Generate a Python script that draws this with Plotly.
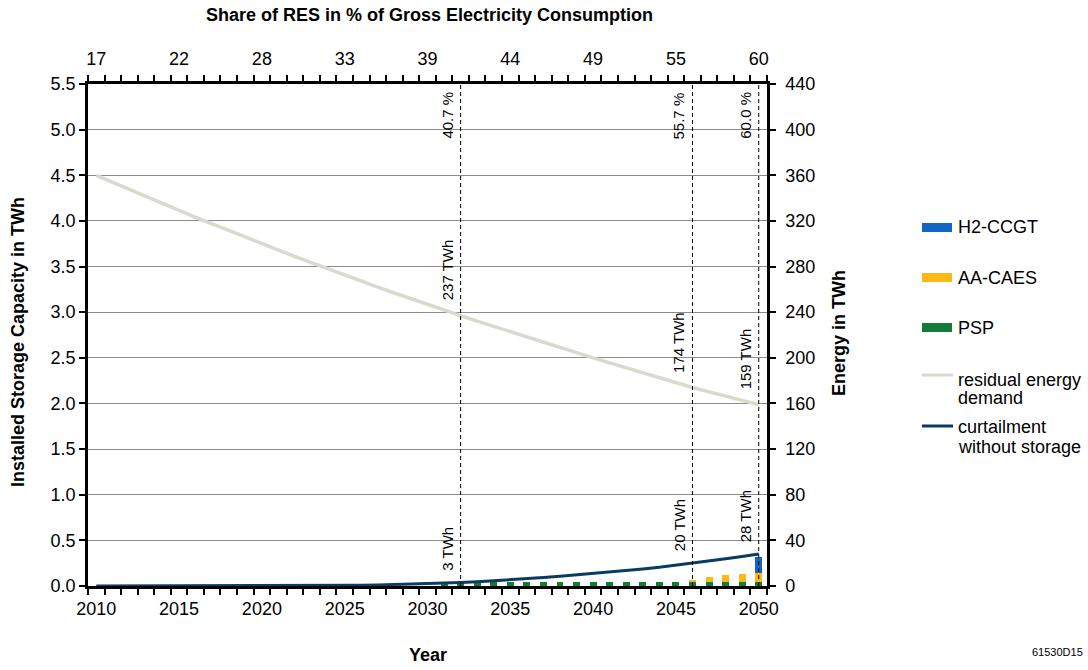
import plotly.graph_objects as go

# ---- data -------------------------------------------------------------
years = list(range(2010, 2051))

# share of renewables in gross electricity consumption (top axis labels, every 5 years)
res_share_years = [2010, 2015, 2020, 2025, 2030, 2035, 2040, 2045, 2050]
res_share_labels = ["17", "22", "28", "33", "39", "44", "49", "55", "60"]

# residual energy demand in TWh
residual_twh = [
    360.0, 353.7, 347.5, 341.3, 335.2, 329.2, 323.2, 317.3, 311.5, 305.7,
    300.0, 294.4, 288.8, 283.3, 277.9, 272.5, 267.2, 262.0, 256.8, 251.7,
    246.7, 241.8, 237.0, 232.2, 227.5, 222.8, 218.2, 213.6, 209.0, 204.5,
    200.0, 195.6, 191.2, 186.9, 182.6, 178.3, 174.0, 170.1, 166.3, 162.6,
    159.0,
]

# curtailment without storage in TWh
curtailment_twh = [
    0.0, 0.0, 0.0, 0.0, 0.0, 0.0, 0.0, 0.0, 0.0, 0.0,
    0.05, 0.1, 0.15, 0.2, 0.3, 0.4, 0.6, 0.9, 1.2, 1.6,
    2.0, 2.5, 3.0, 3.7, 4.5, 5.4, 6.4, 7.5, 8.6, 9.8,
    11.0, 12.3, 13.6, 15.0, 16.5, 18.2, 20.0, 21.9, 23.9, 25.9,
    28.0,
]

# installed storage capacity in TWh
psp_twh = [0.0] * 21 + [0.04] * 20
aa_caes_twh = [0.0] * 36 + [0.03, 0.06, 0.08, 0.09, 0.10]
h2_ccgt_twh = [0.0] * 40 + [0.18]

# marked years with their RES share and residual / curtailment values
mark_years = [2032, 2046, 2050]
mark_share = ["40.7 %", "55.7 %", "60.0 %"]
mark_residual = [237, 174, 159]
mark_curtail = [3, 20, 28]

# ---- styling ----------------------------------------------------------
FONT = "Arial, Liberation Sans, sans-serif"
C_H2 = "#1066C2"
C_CAES = "#FDB913"
C_PSP = "#137B38"
C_RES = "#D9D9CC"
C_CURT = "#0B3A62"

W, H = 1088, 670
L, R, T, B = 88, 321, 84, 84
PW, PH = W - L - R, H - T - B
Y2_MAX = 440


def px(x):
    return (x - L) / PW


def py(y):
    return (H - B - y) / PH


fig = go.Figure()

# stacked storage capacity bars (bottom axis carries the year-boundary ticks)
for name, vals, col in [("PSP", psp_twh, C_PSP),
                        ("AA-CAES", aa_caes_twh, C_CAES),
                        ("H2-CCGT", h2_ccgt_twh, C_H2)]:
    fig.add_trace(go.Bar(x=years, y=vals, name=name, marker_color=col,
                         marker_line_width=0, width=0.42,
                         xaxis="x", yaxis="y", showlegend=False))

# residual energy demand against the year-label axis
fig.add_trace(go.Scatter(x=years, y=residual_twh, mode="lines",
                         name="residual energy demand",
                         line=dict(color=C_RES, width=3.5),
                         xaxis="x3", yaxis="y2", showlegend=False))
# curtailment against the top axis with the boundary ticks
fig.add_trace(go.Scatter(x=years, y=curtailment_twh, mode="lines",
                         name="curtailment without storage",
                         line=dict(color=C_CURT, width=3),
                         xaxis="x2", yaxis="y2", showlegend=False))

# dashed markers for the selected years, against the RES-share label axis
mx, my = [], []
for yr in mark_years:
    mx += [yr, yr, None]
    my += [0, Y2_MAX, None]
fig.add_trace(go.Scatter(x=mx, y=my, mode="lines", name="markers",
                         line=dict(color="black", width=1, dash="4px,3px"),
                         xaxis="x4", yaxis="y2", showlegend=False,
                         hoverinfo="skip"))

boundaries = [y - 0.5 for y in years] + [years[-1] + 0.5]
xrange = [years[0] - 0.5, years[-1] + 0.5]
tickfont = dict(family=FONT, size=18, color="black")

tick_axis = dict(
    range=xrange, tickmode="array", tickvals=boundaries,
    ticktext=[""] * len(boundaries), ticks="outside", ticklen=6, tickwidth=2,
    tickcolor="black", showgrid=False, zeroline=False,
    showline=True, linecolor="black", linewidth=2.5,
)
label_axis = dict(
    range=xrange, overlaying="x", anchor="y", tickmode="array", ticks="",
    tickfont=tickfont, showgrid=False, zeroline=False, showline=False,
)

fig.update_layout(
    width=W, height=H,
    margin=dict(l=L, r=R, t=T, b=B, pad=0),
    paper_bgcolor="white", plot_bgcolor="white",
    barmode="stack",
    font=dict(family=FONT, size=18, color="black"),
    xaxis=dict(tick_axis, side="bottom"),
    xaxis2=dict(tick_axis, side="top", overlaying="x", anchor="y"),
    xaxis3=dict(label_axis, side="bottom", tickvals=years[::5],
                ticktext=[str(y) for y in years[::5]], ticklabelstandoff=10),
    xaxis4=dict(label_axis, side="top", tickvals=res_share_years,
                ticktext=res_share_labels, ticklabelstandoff=14),
    yaxis=dict(
        range=[0, 5.5], tickmode="linear", tick0=0, dtick=0.5,
        tickformat=".1f", tickfont=tickfont,
        ticks="outside", ticklen=6, tickwidth=2, tickcolor="black",
        showgrid=True, gridcolor="#8C8C8C", gridwidth=1, zeroline=False,
        showline=True, linecolor="black", linewidth=2.5,
    ),
    yaxis2=dict(
        range=[0, Y2_MAX], tickmode="linear", tick0=0, dtick=40,
        overlaying="y", side="right", anchor="x", tickfont=tickfont,
        ticks="outside", ticklen=6, tickwidth=2, tickcolor="black",
        showgrid=False, zeroline=False,
        showline=True, linecolor="black", linewidth=2.5,
        ticklabelstandoff=6,
    ),
)

shapes = []
annotations = []

for yr, share, res, cur in zip(mark_years, mark_share, mark_residual, mark_curtail):
    annotations.append(dict(x=yr, y=1, xref="x", yref="paper", text=share,
                            textangle=-90, showarrow=False, xanchor="right",
                            yanchor="top", xshift=-3, yshift=-6,
                            font=dict(family=FONT, size=15)))
    annotations.append(dict(x=yr, y=res, xref="x", yref="y2",
                            text=f"{res} TWh", textangle=-90, showarrow=False,
                            xanchor="right", yanchor="bottom", xshift=-3,
                            yshift=13, font=dict(family=FONT, size=15)))
    annotations.append(dict(x=yr, y=cur, xref="x", yref="y2",
                            text=f"{cur} TWh", textangle=-90, showarrow=False,
                            xanchor="right", yanchor="bottom", xshift=-3,
                            yshift=10, font=dict(family=FONT, size=15)))

# axis titles
bold = dict(family=FONT, size=18, color="black")
annotations += [
    dict(x=px(429), y=py(15), xref="paper", yref="paper", showarrow=False,
         text="<b>Share of RES in % of Gross Electricity Consumption</b>",
         xanchor="center", yanchor="middle", font=bold),
    dict(x=px(428), y=py(655), xref="paper", yref="paper", showarrow=False,
         text="<b>Year</b>", xanchor="center", yanchor="middle", font=bold),
    dict(x=px(18), y=py(342), xref="paper", yref="paper", showarrow=False,
         text="<b>Installed Storage Capacity in TWh</b>", textangle=-90,
         xanchor="center", yanchor="middle", font=bold),
    dict(x=px(839), y=py(333), xref="paper", yref="paper", showarrow=False,
         text="<b>Energy in TWh</b>", textangle=-90,
         xanchor="center", yanchor="middle", font=bold),
    dict(x=px(1085), y=py(652), xref="paper", yref="paper", showarrow=False,
         text="61530D15", xanchor="right", yanchor="middle",
         font=dict(family=FONT, size=11)),
]

# legend
legend_font = dict(family=FONT, size=18, color="black")
for y0, y1, col, label in [(223, 232, C_H2, "H2-CCGT"),
                           (273, 282, C_CAES, "AA-CAES"),
                           (323, 332, C_PSP, "PSP")]:
    shapes.append(dict(type="rect", xref="paper", yref="paper",
                       x0=px(922), x1=px(952), y0=py(y1), y1=py(y0),
                       fillcolor=col, line=dict(width=0)))
    annotations.append(dict(x=px(956), y=py((y0 + y1) / 2), xref="paper",
                            yref="paper", text=label, showarrow=False,
                            xanchor="left", yanchor="middle", font=legend_font))

for yl, col, lines in [(375, C_RES, [("residual energy", 380), ("demand", 398)]),
                       (426, C_CURT, [("curtailment", 427), ("without storage", 447)])]:
    shapes.append(dict(type="line", xref="paper", yref="paper",
                       x0=px(922), x1=px(953), y0=py(yl), y1=py(yl),
                       line=dict(color=col, width=3)))
    for txt, ty in lines:
        annotations.append(dict(x=px(956), y=py(ty), xref="paper", yref="paper",
                                text=txt, showarrow=False, xanchor="left",
                                yanchor="middle", font=legend_font))

fig.update_layout(shapes=shapes, annotations=annotations)

fig.write_html("out.html")
